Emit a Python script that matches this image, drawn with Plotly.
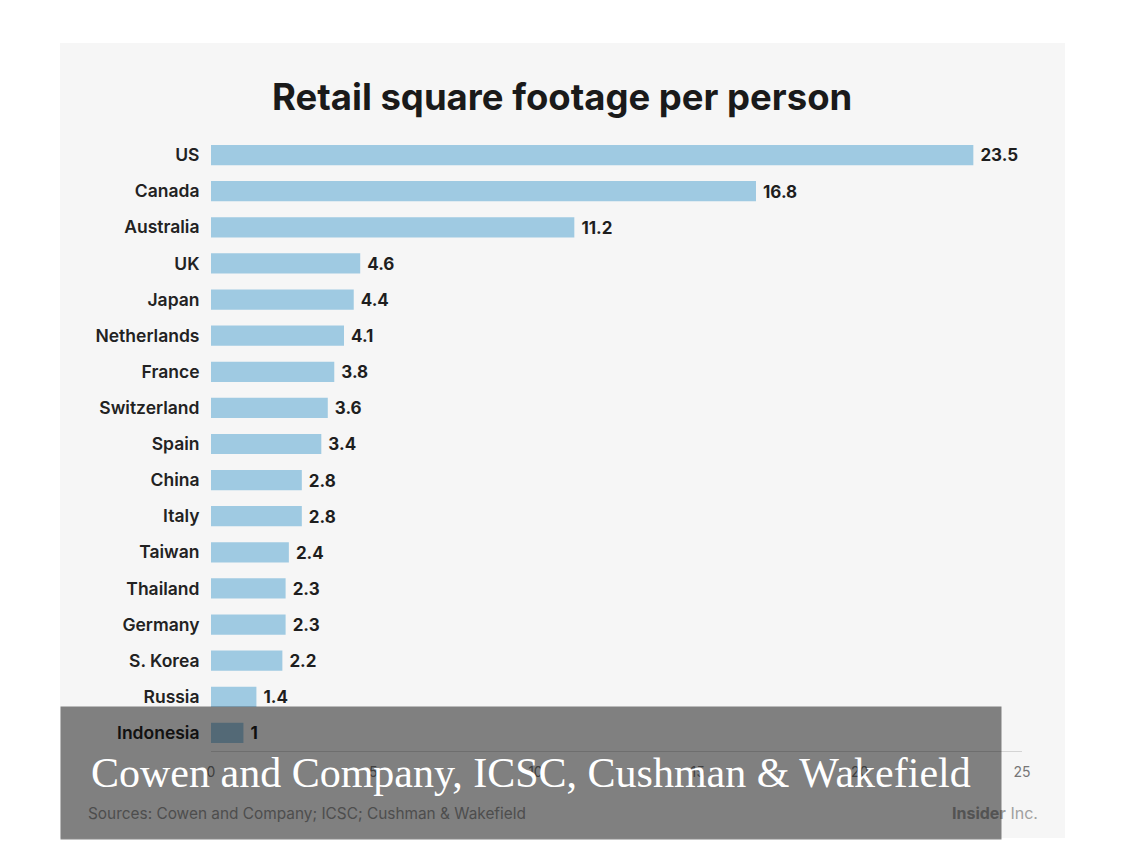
import plotly.graph_objects as go

countries = ["US", "Canada", "Australia", "UK", "Japan", "Netherlands", "France",
             "Switzerland", "Spain", "China", "Italy", "Taiwan", "Thailand",
             "Germany", "S. Korea", "Russia", "Indonesia"]
values = [23.5, 16.8, 11.2, 4.6, 4.4, 4.1, 3.8, 3.6, 3.4, 2.8, 2.8, 2.4, 2.3, 2.3, 2.2, 1.4, 1]
x_ticks = [0, 5, 10, 15, 20, 25]

title_text = "Retail square footage per person"
source_text = "Sources: Cowen and Company; ICSC; Cushman & Wakefield"
overlay_text = "Cowen and Company, ICSC, Cushman & Wakefield"

OFF = 8  # page body margin
W, H = 1125 - 2 * OFF, 850 - 2 * OFF
ML, MT = 211 - OFF, 137 - OFF
MR = W - (1022 - OFF)
MB = H - (751 - OFF)
PW, PH = W - ML - MR, H - MT - MB

def px(x):
    return (x - OFF - ML) / PW

def py(y):
    return (H - MB - (y - OFF)) / PH

SANS = "Inter, Lato, 'Open Sans', sans-serif"

fig = go.Figure()
fig.add_trace(go.Bar(
    x=values, y=countries, orientation="h",
    marker=dict(color="#9fcae2", line=dict(width=0)),
    text=["\u00a0" + f"{v:g}" for v in values],
    textposition="outside",
    textfont=dict(family=SANS, size=18.5, color="#1e1e1e", weight=700),
    cliponaxis=False,
    hoverinfo="skip",
))

fig.update_layout(
    width=W, height=H,
    margin=dict(l=ML, r=MR, t=MT, b=MB),
    paper_bgcolor="white",
    plot_bgcolor="#f6f6f6",
    showlegend=False,
    bargap=0.44,
    xaxis=dict(range=[0, 25], tickvals=x_ticks, showgrid=False, zeroline=False,
               showline=True, linecolor="#d4d4d4", linewidth=1,
               ticks="outside", ticklen=8, tickcolor="rgba(0,0,0,0)",
               tickfont=dict(family=SANS, size=14, color="#777777"),
               fixedrange=True),
    yaxis=dict(autorange="reversed", showgrid=False, zeroline=False, showline=False,
               ticks="outside", ticklen=7, tickcolor="rgba(0,0,0,0)",
               tickfont=dict(family=SANS, size=17.5, color="#222222", weight=600),
               fixedrange=True),
    shapes=[dict(type="rect", xref="paper", yref="paper", layer="below",
                 x0=px(60), x1=px(1065), y0=py(838), y1=py(43),
                 fillcolor="#f6f6f6", line=dict(width=0))],
    annotations=[
        dict(text="<b>" + title_text + "</b>", xref="paper", yref="paper",
             x=px(562), y=py(97), xanchor="center", yanchor="middle", showarrow=False,
             font=dict(family=SANS, size=36.5, color="#1a1a1a", weight=800)),
        dict(text=source_text, xref="paper", yref="paper",
             x=px(86), y=py(813), xanchor="left", yanchor="middle", showarrow=False,
             font=dict(family=SANS, size=15.4, color="#959595")),
        dict(text="<b>Insider</b> Inc.", xref="paper", yref="paper",
             x=px(1040), y=py(813), xanchor="right", yanchor="middle", showarrow=False,
             font=dict(family=SANS, size=16, color="#a0a0a0")),
        dict(text=overlay_text, xref="paper", yref="paper",
             x=px(60), y=py(706), xanchor="left", yanchor="top", showarrow=False,
             width=880, height=72, borderpad=30, align="left", valign="middle",
             bgcolor="rgba(0,0,0,0.48)",
             font=dict(family="'Liberation Serif', 'Times New Roman', serif", size=42, color="white")),
    ],
)

fig.write_html("out.html")
